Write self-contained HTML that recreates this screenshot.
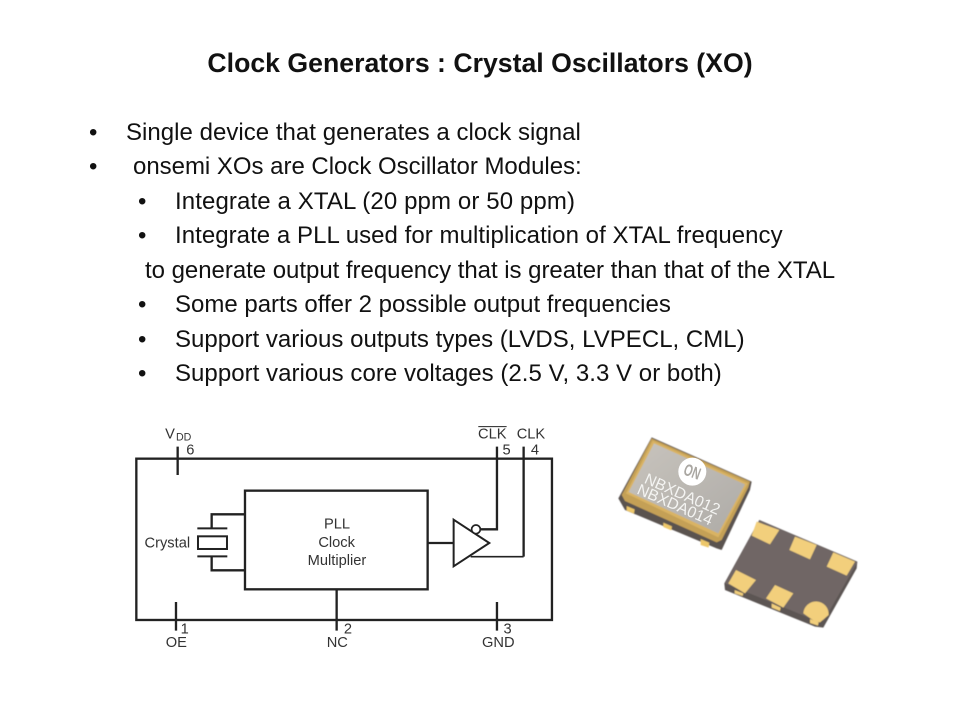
<!DOCTYPE html>
<html><head><meta charset="utf-8"><style>
html,body{margin:0;padding:0;background:#fff}
#p{position:relative;width:960px;height:720px;overflow:hidden;background:#fff;font-family:"Liberation Sans",sans-serif;color:#111}
.t{position:absolute;white-space:pre;font-size:24px;line-height:24px}
.h{position:absolute;left:0;width:960px;top:48px;text-align:center;font-weight:bold;font-size:26.67px;line-height:30px;white-space:pre}
svg{position:absolute;left:0;top:0}
</style></head><body><div id="p">
<div class="h">Clock Generators : Crystal Oscillators (XO)</div>
<div class="t" style="left:89px;top:121px">•</div><div class="t" style="left:126px;top:121px;letter-spacing:.03px">Single device that generates a clock signal</div>
<div class="t" style="left:89px;top:155px">•</div><div class="t" style="left:133px;top:155px;letter-spacing:-.02px">onsemi XOs are Clock Oscillator Modules:</div>
<div class="t" style="left:138px;top:190px">•</div><div class="t" style="left:175px;top:190px;letter-spacing:.11px">Integrate a XTAL (20 ppm or 50 ppm)</div>
<div class="t" style="left:138px;top:224px">•</div><div class="t" style="left:175px;top:224px;letter-spacing:.05px">Integrate a PLL used for multiplication of XTAL frequency</div>
<div class="t" style="left:145px;top:259px;letter-spacing:-.03px">to generate output frequency that is greater than that of the XTAL</div>
<div class="t" style="left:138px;top:293px">•</div><div class="t" style="left:175px;top:293px">Some parts offer 2 possible output frequencies</div>
<div class="t" style="left:138px;top:328px">•</div><div class="t" style="left:175px;top:328px;letter-spacing:.02px">Support various outputs types (LVDS, LVPECL, CML)</div>
<div class="t" style="left:138px;top:362px">•</div><div class="t" style="left:175px;top:362px;letter-spacing:.04px">Support various core voltages (2.5 V, 3.3 V or both)</div>
<svg width="960" height="720" viewBox="0 0 960 720">
<g transform="translate(120 420) scale(.3333)" fill="none" stroke="#222" stroke-width="7">
<rect x="49" y="116" width="1247" height="484"/>
<rect x="375" y="212" width="548" height="296"/>
<path d="M173 80V165M1131 80V328H1083M1211 80V410M168 546V632M650 508V632M1131 546V632M923 369H1000M375 283H275V325M375 451H275V409"/>
<path d="M232 325H322M232 409H322" stroke-width="6"/>
<rect x="234" y="349" width="87" height="38" stroke-width="6"/>
<path d="M1001 299L1108 369L1001 439Z" stroke-width="6" fill="#fff"/>
<circle cx="1068" cy="328" r="13" stroke-width="5" fill="#fff"/>
<path d="M1052 410H1211" stroke-width="5"/>
<path d="M1075 20H1160" stroke-width="3"/>
<g fill="#333" stroke="none" font-size="44" text-anchor="middle">
<text x="651" y="326">PLL</text><text x="650" y="381">Clock</text><text x="651" y="435">Multiplier</text>
<text x="142" y="383">Crystal</text>
<text x="150" y="55">V</text><text x="191" y="62" font-size="32">DD</text><text x="211" y="103">6</text>
<text x="1117" y="55">CLK</text><text x="1233" y="55">CLK</text><text x="1160" y="103">5</text><text x="1245" y="103">4</text>
<text x="194" y="640">1</text><text x="684" y="640">2</text><text x="1163" y="640">3</text>
<text x="169" y="681">OE</text><text x="652" y="681">NC</text><text x="1135" y="681">GND</text>
</g></g>
<defs>
<linearGradient id="lid" x1="0" y1="0" x2="1" y2="1"><stop offset="0" stop-color="#c8c4bd"/><stop offset="1" stop-color="#aeaba7"/></linearGradient>
<filter id="b"><feGaussianBlur stdDeviation="1.5"/></filter>
</defs>
<g transform="translate(610 430) scale(.3333)">
<g filter="url(#b)">
<path d="M125 22L425 155L420 180L335 360L320 355L45 240L25 205Z" fill="#5a5250"/>
<path d="M125 25L420 155L415 172L335 330L320 337L45 213L35 195Z" fill="#c4a056"/>
<path d="M48 190L128 32L414 160L325 322Z" fill="#d9b364"/>
<path d="M56 186L132 40L405 163L325 310Z" fill="url(#lid)"/>
<path d="M50 228L74 238L72 251L50 242Z" fill="#edc76b"/>
<path d="M160 278L186 289L184 301L160 291Z" fill="#edc76b"/>
<path d="M272 327L298 338L296 353L272 345Z" fill="#edc76b"/>
</g>
<circle cx="247" cy="125" r="42" fill="#fff"/>
<g fill="#f4f4f2" font-family="Liberation Sans">
<text transform="translate(247 125) rotate(20)" y="17" text-anchor="middle" font-size="50" font-weight="bold" fill="#aaa7a2" textLength="50" lengthAdjust="spacingAndGlyphs">ON</text>
<text transform="translate(100 158) rotate(23.6)" font-size="47" textLength="242" lengthAdjust="spacingAndGlyphs">NBXDA012</text>
<text transform="translate(78 190) rotate(23.6)" font-size="47" textLength="242" lengthAdjust="spacingAndGlyphs">NBXDA014</text>
</g>
</g>
<g transform="translate(720 515) scale(.3333)" filter="url(#b)">
<path d="M118 15L412 140L410 160L310 338L285 335L15 225L13 205Z" fill="#5c5452"/>
<path d="M118 15L412 142L312 316L295 320L15 205Z" fill="#6f6665"/>
<g fill="#f2cf7c">
<path d="M110 20L178 45L150 88L95 62Z"/>
<path d="M225 65L290 90L270 133L208 105Z"/>
<path d="M340 112L405 140L380 182L320 155Z"/>
<path d="M48 165L108 195L75 235L25 205Z"/>
<path d="M165 210L220 235L190 278L138 250Z"/>
<path d="M250 295A38 38 0 0 1 326 300L300 322L285 320Z"/>
<path d="M44 225L70 235L68 243L44 235Z"/>
<path d="M155 265L182 278L180 288L155 278Z"/>
<path d="M270 312L296 322L294 332L270 324Z"/>
</g></g>
</svg>
</div></body></html>
